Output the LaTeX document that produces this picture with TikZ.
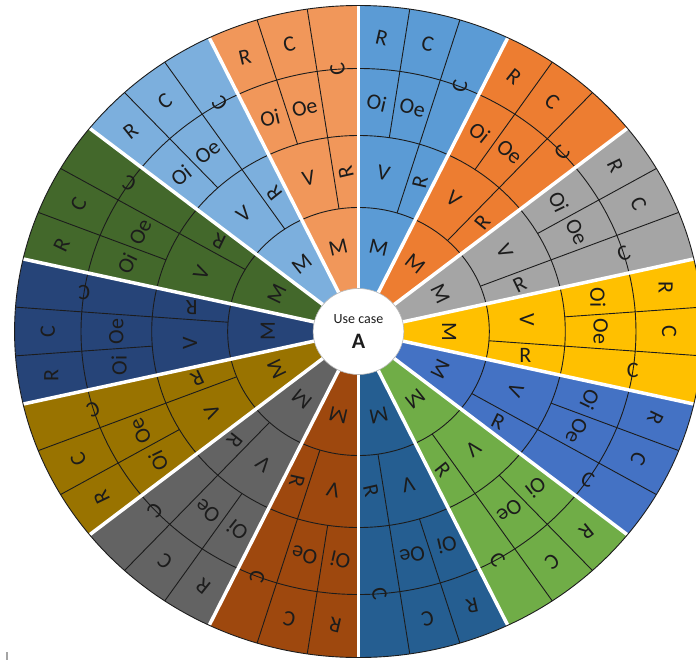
\documentclass[tikz,border=0pt]{standalone}
\usepackage{fontspec}
\setmainfont{Carlito}
\usetikzlibrary{positioning}
\definecolor{ltblue}{HTML}{5B9BD5}
\definecolor{orange}{HTML}{ED7D31}
\definecolor{gray}{HTML}{A5A5A5}
\definecolor{gold}{HTML}{FFC000}
\definecolor{midblue}{HTML}{4472C4}
\definecolor{green}{HTML}{70AD47}
\definecolor{dkblue}{HTML}{255E91}
\definecolor{brown}{HTML}{9E480E}
\definecolor{dkgray}{HTML}{636363}
\definecolor{olive}{HTML}{997300}
\definecolor{navy}{HTML}{264478}
\definecolor{dkgreen}{HTML}{43682B}
\definecolor{skyblue}{HTML}{7CAFDD}
\definecolor{peach}{HTML}{F1975A}
\definecolor{ink}{HTML}{1C1C1C}

\begin{document}
\begin{tikzpicture}[x=1pt,y=1pt,xscale=1.055,
  lbl/.style={text=ink,inner sep=0pt,font=\fontsize{22}{22}\selectfont},
  ringline/.style={draw=ink,line width=0.9pt},
  gapline/.style={white,line width=3.5pt}]
\useasboundingbox (-339.8,-328.5) rectangle (319.9,331.5);
% wedges, clockwise from the top
\foreach \col [count=\k from 0] in {ltblue,orange,gray,gold,midblue,green,dkblue,brown,dkgray,olive,navy,dkgreen,skyblue,peach}{
  \pgfmathsetmacro{\sa}{90-\k*360/14}
  \pgfmathsetmacro{\ea}{\sa-360/14}
  \fill[\col] (0,0) -- (\sa:326) arc[start angle=\sa,end angle=\ea,radius=326] -- cycle;
}
% rings
\foreach \rr in {124,196,263}
  \draw[ringline] (0,0) circle[radius=\rr];
% dividers and gaps
\foreach \k in {0,...,13}{
  \pgfmathsetmacro{\sa}{90-\k*360/14}
  \pgfmathsetmacro{\ta}{\sa-360/42}
  \pgfmathsetmacro{\tb}{\sa-720/42}
  \draw[ringline] (\ta:196) -- (\ta:326);
  \draw[ringline] (\tb:124) -- (\tb:326);
  \draw[gapline] (0,0) -- (\sa:326);
}
\draw[ringline] (0,0) circle[radius=326];
\filldraw[fill=white,draw=gray!80,line width=0.6pt] (0,0) circle[radius=43];
\node[text=ink,font=\fontsize{14}{14}\selectfont] (usecase) at (0,12) {Use case};
\node[text=ink,font=\fontsize{22}{22}\selectfont\bfseries] (caseA) at (0,-10) {A};
% labels
\foreach \k in {0,...,13}{
  \pgfmathsetmacro{\sa}{90-\k*360/14}
  \pgfmathsetmacro{\ma}{\sa-180/14}
  \pgfmathsetmacro{\rt}{\ma-90}
  \pgfmathsetmacro{\ha}{\sa-180/42}
  \pgfmathsetmacro{\ta}{\sa-360/42}
  \pgfmathsetmacro{\qa}{\sa-900/42}
  \node[lbl,rotate=\rt] (m\k) at (\ma:86) {M};
  \node[lbl,rotate=\rt] (v\k) at (\ta:160) {V};
  \node[lbl,rotate=\ma] (rv\k) at (\qa:160) {R};
  \node[lbl,rotate=\rt] (oi\k) at (\ha:229.5) {Oi};
  \node[lbl,rotate=\rt] (oe\k) at (\ma:229.5) {Oe};
  \node[lbl,rotate=\rt] (ro\k) at (\ha:294.5) {R};
  \node[lbl,rotate=\rt] (co\k) at (\ma:294.5) {C};
  \node[lbl,rotate=\ma] (cb\k) at (\qa:263) {C};
}
\draw[gray,line width=1.2pt] (-333.2,-320.5) -- (-333.2,-328.5);
\end{tikzpicture}
\end{document}
